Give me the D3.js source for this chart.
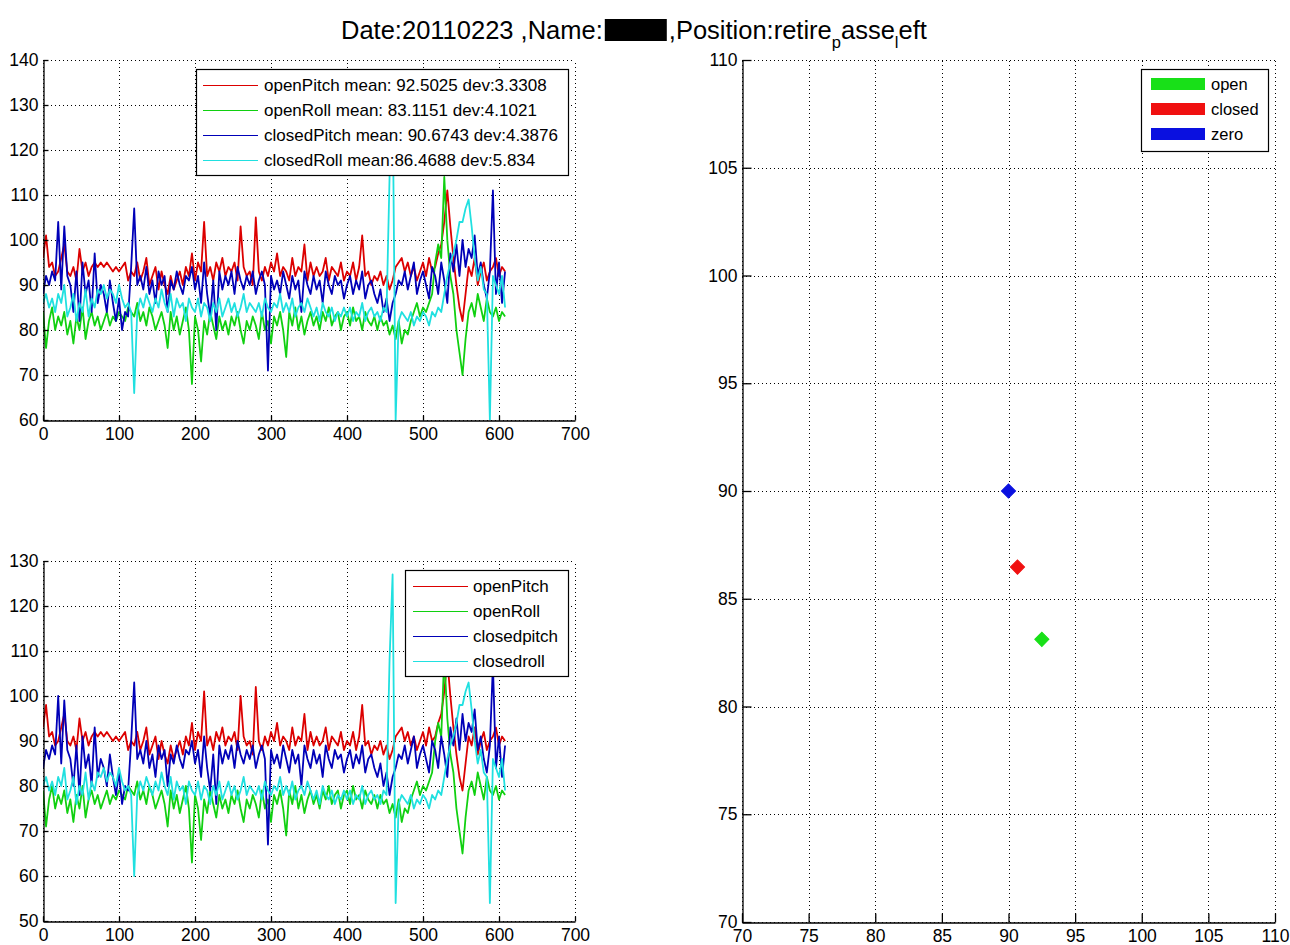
<!DOCTYPE html>
<html>
<head>
<meta charset="utf-8">
<script src="https://cdn.jsdelivr.net/npm/d3@7"></script>
<style>
  body { margin: 0; background: #fff; }
  svg { display: block; }
  text { font-family: Arial, "Liberation Sans", Helvetica, sans-serif; fill: #000; }
</style>
</head>
<body>
<svg id="fig" width="1290" height="945"></svg>
<script>
// ---- data -------------------------------------------------------------
// one value every `sampleStep` samples
const sampleStep = 4;

// raw angles (upper panel)
const openPitch = [96,101,94,95,92,93,96,99,93,92,
  94,91,98,93,95,92,94,95,94,95, 94,95,94,93,94,93,94,95,91,93,
  92,95,91,93,96,90,92,94,89,93, 90,88,92,89,91,93,90,94,92,97,
  91,95,93,104,92,94,91,95,93,96, 92,94,93,95,91,103,94,92,93,90,
  105,93,91,94,92,95,93,97,92,94, 93,91,96,92,94,93,99,91,95,92,
  94,92,93,96,91,94,93,92,95,91, 93,92,95,91,94,101,92,93,90,92,
  91,93,90,92,89,91,94,95,96,93, 95,92,94,91,93,95,92,96,93,94,
  97,99,104,111,103,96,90,85,82,88, 94,92,96,90,93,95,91,93,94,96,
  92,94,93];
const openRoll = [84,76,82,85,80,83,81,84,79,82,
  77,83,80,85,78,82,84,81,83,80, 82,84,81,83,82,84,83,82,85,84,
  83,86,82,84,81,85,83,80,82,84, 81,76,84,80,83,79,82,85,80,68,
  83,80,73,82,79,84,81,78,83,80, 82,79,83,81,84,80,77,82,80,83,
  81,78,84,80,82,77,83,81,84,80, 74,84,81,85,80,83,79,82,84,81,
  83,80,84,82,85,81,83,84,80,83, 84,81,85,82,83,80,84,82,81,83,
  80,83,81,82,79,81,78,82,77,80, 79,82,84,86,83,85,84,86,88,95,
  99,96,114,100,92,88,80,75,70,78, 84,86,83,88,85,82,87,84,83,85,
  82,84,83];
const closedPitch = [88,92,90,93,91,104,89,103,92,90,
  84,93,82,95,88,91,84,97,86,90, 88,84,91,86,82,87,80,84,83,94,
  107,90,92,89,94,88,91,86,93,90, 92,84,91,89,93,90,88,92,91,94,
  89,92,86,95,88,83,91,80,93,89, 92,90,93,88,94,91,89,92,90,93,
  88,91,93,90,71,92,89,91,88,93, 90,87,92,89,91,84,93,90,88,92,
  89,91,86,93,90,88,92,90,91,87, 90,92,88,91,89,93,87,90,91,88,
  86,89,84,87,82,86,88,91,90,93, 89,92,95,88,91,93,90,87,94,92,
  88,95,91,86,97,93,99,92,100,94, 98,96,101,92,95,90,87,93,111,88,
  95,86,93];
const closedRoll = [86,88,85,87,84,88,86,90,83,85,
  88,82,86,84,89,83,87,85,89,88, 90,87,89,88,86,90,87,85,86,84,
  66,84,87,85,88,86,84,87,85,89, 86,84,88,83,87,85,86,82,87,85,
  84,87,83,86,85,82,86,84,87,83, 85,87,84,86,83,85,88,84,86,85,
  84,86,83,87,85,84,86,85,88,84, 86,84,87,83,85,86,84,87,85,83,
  85,82,86,84,83,85,82,84,83,85, 83,85,82,84,83,86,82,84,85,83,
  84,82,85,84,114,133,60,82,84,83, 82,84,81,83,82,84,83,81,84,83,
  85,84,88,92,95,97,100,104,104,107, 109,103,96,91,94,89,88,60,92,90,
  88,92,85];

// zero-corrected angles (lower panel)
const openPitchAdj = [93,98,91,92,89,90,93,96,90,89,
  91,88,95,90,92,89,91,92,91,92, 91,92,91,90,91,90,91,92,88,90,
  89,92,88,90,93,87,89,91,86,90, 87,85,89,86,88,90,87,91,89,94,
  88,92,90,101,89,91,88,92,90,93, 89,91,90,92,88,100,91,89,90,87,
  102,90,88,91,89,92,90,94,89,91, 90,88,93,89,91,90,96,88,92,89,
  91,89,90,93,88,91,90,89,92,88, 90,89,92,88,91,98,89,90,87,89,
  88,90,87,89,86,88,91,92,93,90, 92,89,91,88,90,92,89,93,90,91,
  94,96,101,108,100,93,87,82,79,85, 91,89,93,87,90,92,88,90,91,93,
  89,91,90];
const openRollAdj = [79,71,77,80,75,78,76,79,74,77,
  72,78,75,80,73,77,79,76,78,75, 77,79,76,78,77,79,78,77,80,79,
  78,81,77,79,76,80,78,75,77,79, 76,71,79,75,78,74,77,80,75,63,
  78,75,68,77,74,79,76,73,78,75, 77,74,78,76,79,75,72,77,75,78,
  76,73,79,75,77,72,78,76,79,75, 69,79,76,80,75,78,74,77,79,76,
  78,75,79,77,80,76,78,79,75,78, 79,76,80,77,78,75,79,77,76,78,
  75,78,76,77,74,76,73,77,72,75, 74,77,79,81,78,80,79,81,83,90,
  94,91,109,95,87,83,75,70,65,73, 79,81,78,83,80,77,82,79,78,80,
  77,79,78];
const closedPitchAdj = [84,88,86,89,87,100,85,99,88,86,
  80,89,78,91,84,87,80,93,82,86, 84,80,87,82,78,83,76,80,79,90,
  103,86,88,85,90,84,87,82,89,86, 88,80,87,85,89,86,84,88,87,90,
  85,88,82,91,84,79,87,76,89,85, 88,86,89,84,90,87,85,88,86,89,
  84,87,89,86,67,88,85,87,84,89, 86,83,88,85,87,80,89,86,84,88,
  85,87,82,89,86,84,88,86,87,83, 86,88,84,87,85,89,83,86,87,84,
  82,85,80,83,78,82,84,87,86,89, 85,88,91,84,87,89,86,83,90,88,
  84,91,87,82,93,89,95,88,96,90, 94,92,97,88,91,86,83,89,107,84,
  91,82,89];
const closedRollAdj = [80,82,79,81,78,82,80,84,77,79,
  82,76,80,78,83,77,81,79,83,82, 84,81,83,82,80,84,81,79,80,78,
  60,78,81,79,82,80,78,81,79,83, 80,78,82,77,81,79,80,76,81,79,
  78,81,77,80,79,76,80,78,81,77, 79,81,78,80,77,79,82,78,80,79,
  78,80,77,81,79,78,80,79,82,78, 80,78,81,77,79,80,78,81,79,77,
  79,76,80,78,77,79,76,78,77,79, 77,79,76,78,77,80,76,78,79,77,
  78,76,79,78,108,127,54,76,78,77, 76,78,75,77,76,78,77,75,78,77,
  79,78,82,86,89,91,94,98,98,101, 103,97,90,85,88,83,82,54,86,84,
  82,86,79];

const seriesColors = ["#dc0000", "#10d010", "#0000b8", "#20e0e0"];
const upperLegend = ["openPitch mean: 92.5025 dev:3.3308", "openRoll mean: 83.1151 dev:4.1021",
                     "closedPitch mean: 90.6743 dev:4.3876", "closedRoll mean:86.4688 dev:5.834"];
const lowerLegend = ["openPitch", "openRoll", "closedpitch", "closedroll"];

// mean (pitch, roll) per state
const stateNames  = ["open", "closed", "zero"];
const statePitch  = [92.5025, 90.6743, 90];
const stateRoll   = [83.1151, 86.4688, 90];
const stateColors = ["#18e018", "#f01010", "#0a10e0"];

// tick values
const sampleTicks = [0, 100, 200, 300, 400, 500, 600, 700];
const upperTicks  = [60, 70, 80, 90, 100, 110, 120, 130, 140];
const lowerTicks  = [50, 60, 70, 80, 90, 100, 110, 120, 130];
const angleTicks  = [70, 75, 80, 85, 90, 95, 100, 105, 110];

// ---- drawing ----------------------------------------------------------
const svg = d3.select("#fig");
svg.append("rect").attr("width", 1290).attr("height", 945).attr("fill", "#fff");
const defs = svg.append("defs");
const TICK_FONT = 17.5;

function makeAxes(id, box, xDomain, yDomain, xTicks, yTicks, tickLen) {
  const x = d3.scaleLinear().domain(xDomain).range([box.left, box.right]);
  const y = d3.scaleLinear().domain(yDomain).range([box.bottom, box.top]);
  const g = svg.append("g");

  // dotted grid
  const grid = g.append("g").attr("stroke", "#000").attr("stroke-width", 1)
    .attr("stroke-dasharray", "1 3").attr("shape-rendering", "crispEdges");
  grid.selectAll("line.v").data(xTicks).join("line")
    .attr("x1", d => Math.round(x(d)) + 0.5).attr("x2", d => Math.round(x(d)) + 0.5)
    .attr("y1", box.bottom).attr("y2", box.top);
  grid.selectAll("line.h").data(yTicks).join("line")
    .attr("y1", d => Math.round(y(d)) + 0.5).attr("y2", d => Math.round(y(d)) + 0.5)
    .attr("x1", box.left).attr("x2", box.right);

  defs.append("clipPath").attr("id", id).append("rect")
    .attr("x", box.left).attr("y", box.top)
    .attr("width", box.right - box.left).attr("height", box.bottom - box.top);
  const plot = g.append("g").attr("clip-path", `url(#${id})`);

  const axes = g.append("g");
  return { x, y, g, plot, axes, box, xTicks, yTicks, tickLen };
}

function finishAxes(a) {
  const xa = a.axes.append("g").attr("transform", `translate(0,${a.box.bottom + 0.5})`)
    .call(d3.axisBottom(a.x).tickValues(a.xTicks).tickFormat(d3.format("d"))
      .tickSizeInner(-a.tickLen).tickSizeOuter(0).tickPadding(7));
  const ya = a.axes.append("g").attr("transform", `translate(${a.box.left + 0.5},0)`)
    .call(d3.axisLeft(a.y).tickValues(a.yTicks).tickFormat(d3.format("d"))
      .tickSizeInner(-a.tickLen).tickSizeOuter(0).tickPadding(5));
  [xa, ya].forEach(s => {
    s.selectAll("path.domain").attr("stroke", "#000").attr("stroke-width", 1.3);
    s.selectAll(".tick line").attr("stroke", "#000").attr("stroke-width", 1.3);
    s.selectAll(".tick text").style("font-size", TICK_FONT + "px")
      .style("font-family", "Arial, 'Liberation Sans', sans-serif").attr("fill", "#000");
  });
}

function drawSeries(a, series) {
  const line = d3.line().x((d, i) => a.x(i * sampleStep)).y(d => a.y(d));
  a.plot.selectAll("path.series").data(series).join("path")
    .attr("fill", "none")
    .attr("stroke", (d, i) => seriesColors[i])
    .attr("stroke-width", 1.8)
    .attr("stroke-linejoin", "round")
    .attr("d", line);
}

function drawLegend(box, labels, swatch) {
  const g = svg.append("g");
  g.append("rect").attr("x", box.x + 0.5).attr("y", box.y + 0.5)
    .attr("width", box.w).attr("height", box.h)
    .attr("fill", "#fff").attr("stroke", "#000").attr("stroke-width", 1.2);
  labels.forEach((label, i) => {
    const cy = box.y + box.first + i * box.gap;
    swatch(g, i, cy);
    g.append("text").attr("x", box.textX).attr("y", cy).attr("dy", "0.36em")
      .style("font-size", box.font + "px").text(label);
  });
}

// upper panel: raw angles
const upper = makeAxes("clipUpper", { left: 43, right: 575, top: 60, bottom: 420 },
  [0, 700], [60, 140], sampleTicks, upperTicks, 5);
drawSeries(upper, [openPitch, openRoll, closedPitch, closedRoll]);
finishAxes(upper);

// lower panel: zero-corrected angles
const lower = makeAxes("clipLower", { left: 43, right: 575, top: 561, bottom: 921 },
  [0, 700], [50, 130], sampleTicks, lowerTicks, 5);
drawSeries(lower, [openPitchAdj, openRollAdj, closedPitchAdj, closedRollAdj]);
finishAxes(lower);

// right panel: mean pitch vs mean roll
const means = makeAxes("clipMeans", { left: 742, right: 1275, top: 60, bottom: 922 },
  [70, 110], [70, 110], angleTicks, angleTicks, 9);
finishAxes(means);
const diamond = d3.symbol(d3.symbolSquare, 100);
means.g.append("g").selectAll("path").data(stateNames).join("path")
  .attr("d", diamond)
  .attr("transform", (d, i) => `translate(${means.x(statePitch[i])},${means.y(stateRoll[i])}) rotate(45)`)
  .attr("fill", (d, i) => stateColors[i])
  .attr("stroke", (d, i) => stateColors[i]).attr("stroke-width", 1);

// legends
drawLegend({ x: 196, y: 69, w: 372, h: 106, first: 16, gap: 25, textX: 264, font: 17 },
  upperLegend, (g, i, cy) => g.append("line").attr("x1", 203).attr("x2", 258)
    .attr("y1", cy + 0.5).attr("y2", cy + 0.5).attr("stroke", seriesColors[i]).attr("stroke-width", 1.1));
drawLegend({ x: 405, y: 570, w: 163, h: 106, first: 16, gap: 25, textX: 473, font: 17 },
  lowerLegend, (g, i, cy) => g.append("line").attr("x1", 413).attr("x2", 468)
    .attr("y1", cy + 0.5).attr("y2", cy + 0.5).attr("stroke", seriesColors[i]).attr("stroke-width", 1.1));
drawLegend({ x: 1141, y: 69, w: 127, h: 82, first: 15, gap: 25, textX: 1211, font: 16.5 },
  stateNames, (g, i, cy) => g.append("rect").attr("x", 1151).attr("y", cy - 6)
    .attr("width", 54).attr("height", 12).attr("fill", stateColors[i]));

// title with redacted name and TeX-style subscripts
const title = svg.append("g");
const t1 = title.append("text").attr("x", 341).attr("y", 39).style("font-size", "25.5px")
  .text("Date:20110223 ,Name:");
const w1 = t1.node().getComputedTextLength();
title.append("rect").attr("x", 341 + w1 + 2).attr("y", 19).attr("width", 62).attr("height", 22).attr("fill", "#000");
const t2 = title.append("text").attr("x", 341 + w1 + 66).attr("y", 39).style("font-size", "25.5px");
t2.append("tspan").text(",Position:retire");
t2.append("tspan").attr("dy", 9).style("font-size", "16.5px").text("p");
t2.append("tspan").attr("dy", -9).text("asse");
t2.append("tspan").attr("dy", 9).style("font-size", "16.5px").text("l");
t2.append("tspan").attr("dy", -9).text("eft");
</script>
</body>
</html>
